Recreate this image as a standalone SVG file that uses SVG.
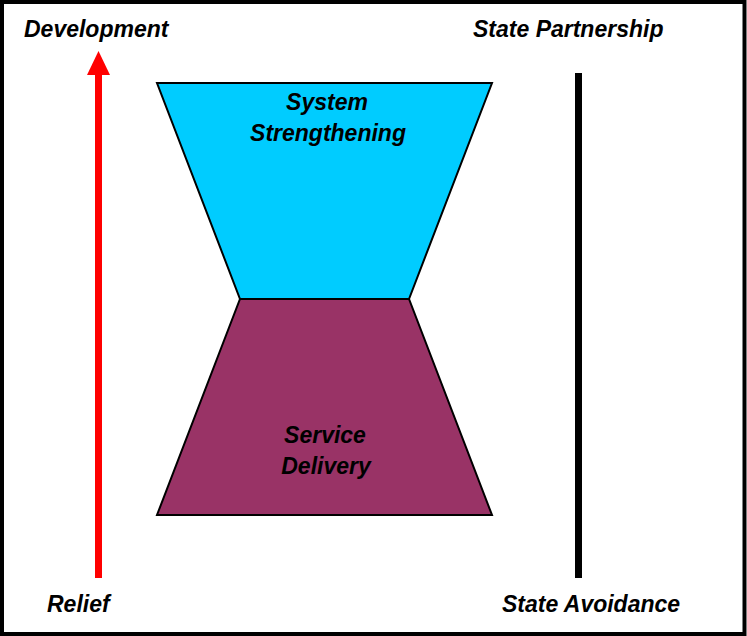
<svg xmlns="http://www.w3.org/2000/svg" width="747" height="636" viewBox="0 0 747 636">
  <style>
    .lbl { font-family: "Liberation Sans", Arial, sans-serif; font-weight: bold; font-style: italic; font-size: 23px; fill: #000; }
    .mid { text-anchor: middle; }
    .shape { stroke: #000; stroke-width: 2; stroke-linejoin: miter; }
  </style>

  <!-- frame -->
  <rect x="2" y="2" width="742.5" height="632" fill="#fff" stroke="#000" stroke-width="4"/>

  <!-- axis lines -->
  <g id="connectors">
    <line x1="98.5" y1="578" x2="98.5" y2="75" stroke="#ff0000" stroke-width="7"/>
    <path d="M87,75 L98.5,51 L110,75 Z" fill="#ff0000"/>
    <line x1="578.5" y1="73" x2="578.5" y2="578" stroke="#000" stroke-width="7"/>
  </g>

  <!-- upper funnel -->
  <g id="system-strengthening">
    <polygon class="shape" points="157,83 492,83 409,299 240,299" fill="#00ccff"/>
    <text class="lbl mid" x="327" y="110">System</text>
    <text class="lbl mid" x="328" y="141">Strengthening</text>
  </g>

  <!-- lower funnel -->
  <g id="service-delivery">
    <polygon class="shape" points="240,299 409,299 492,515 157,515" fill="#993366"/>
    <text class="lbl mid" x="325" y="443">Service</text>
    <text class="lbl mid" x="326" y="474">Delivery</text>
  </g>

  <!-- axis end labels -->
  <g id="development"><text class="lbl" x="24" y="37">Development</text></g>
  <g id="relief"><text class="lbl" x="47" y="612">Relief</text></g>
  <g id="state-partnership"><text class="lbl" x="473" y="37">State Partnership</text></g>
  <g id="state-avoidance"><text class="lbl" x="502" y="612">State Avoidance</text></g>
</svg>
